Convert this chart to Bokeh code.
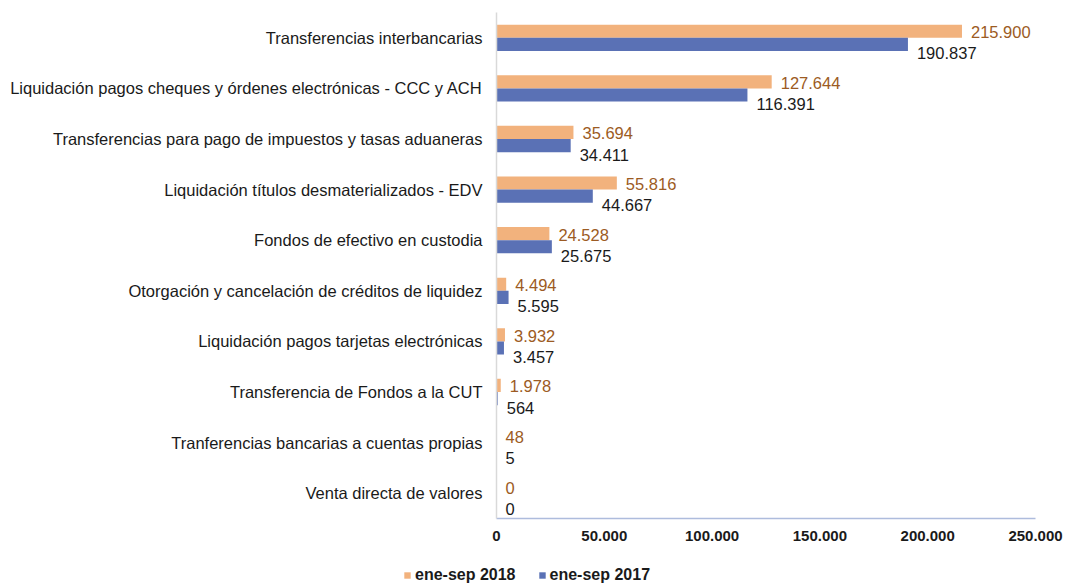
from bokeh.plotting import figure
from bokeh.models import ColumnDataSource, FactorRange, Range1d, Legend, LegendItem, FixedTicker
from bokeh.transform import dodge
from bokeh.core.properties import value
from bokeh.embed import file_html
from bokeh.resources import INLINE

categories = [
    "Transferencias interbancarias",
    "Liquidación pagos cheques y órdenes electrónicas - CCC y ACH",
    "Transferencias para pago de impuestos y tasas aduaneras",
    "Liquidación títulos desmaterializados - EDV",
    "Fondos de efectivo en custodia",
    "Otorgación y cancelación de créditos de liquidez",
    "Liquidación pagos tarjetas electrónicas",
    "Transferencia de Fondos a la CUT",
    "Tranferencias bancarias a cuentas propias",
    "Venta directa de valores",
]
values_2018 = [215900, 127644, 35694, 55816, 24528, 4494, 3932, 1978, 48, 0]
values_2017 = [190837, 116391, 34411, 44667, 25675, 5595, 3457, 564, 5, 0]
series_names = ["ene-sep 2018", "ene-sep 2017"]
x_ticks = [0, 50000, 100000, 150000, 200000, 250000]


def fmt(v):
    return f"{v:,}".replace(",", ".")


ORANGE = "#F2B27D"
BLUE = "#5A71B5"
FONT = "Liberation Sans"
TXT = "#1a1a1a"

src = ColumnDataSource(dict(
    cat=categories,
    v18=values_2018,
    v17=values_2017,
    l18=[fmt(v) for v in values_2018],
    l17=[fmt(v) for v in values_2017],
))

p = figure(
    width=1066, height=552,
    y_range=FactorRange(factors=categories[::-1]),
    x_range=Range1d(0, 250000),
    output_backend="svg", toolbar_location=None,
    min_border_left=496, min_border_right=31,
    min_border_top=12, min_border_bottom=34,
)
p.outline_line_color = None
p.xgrid.visible = False
p.ygrid.visible = False

off = 0.13
h = 0.26
r18 = p.hbar(y=dodge("cat", off, range=p.y_range), right="v18", left=0, height=h,
             source=src, fill_color=ORANGE, line_color=None)
r17 = p.hbar(y=dodge("cat", -off, range=p.y_range), right="v17", left=0, height=h,
             source=src, fill_color=BLUE, line_color=None)

p.text(x="v18", y=dodge("cat", off, range=p.y_range), text="l18", source=src,
       x_offset=9, y_offset=1, text_baseline="middle", text_align="left",
       text_font=value(FONT), text_font_size="16.5px", text_color="#9C5B23")
p.text(x="v17", y=dodge("cat", -off, range=p.y_range), text="l17", source=src,
       x_offset=9, y_offset=9, text_baseline="middle", text_align="left",
       text_font=value(FONT), text_font_size="16.5px", text_color=TXT)

# x axis
xa = p.xaxis[0]
xa.ticker = FixedTicker(ticks=x_ticks)
xa.major_label_overrides = {t: fmt(t) for t in x_ticks}
xa.major_label_text_font = FONT
xa.major_label_text_font_size = "15px"
xa.major_label_text_font_style = "bold"
xa.major_label_text_color = TXT
xa.major_label_standoff = 12
xa.major_tick_out = 0
xa.major_tick_in = 0
xa.minor_tick_out = 0
xa.minor_tick_in = 0
xa.axis_line_color = "#AEBCDD"
xa.axis_line_width = 1.5

# y axis
ya = p.yaxis[0]
ya.major_label_text_font = FONT
ya.major_label_text_font_size = "16.5px"
ya.major_label_text_color = TXT
ya.major_label_standoff = 14
ya.major_tick_out = 0
ya.major_tick_in = 0
ya.minor_tick_out = 0
ya.minor_tick_in = 0
ya.axis_line_color = "#D9D9D9"
ya.axis_line_width = 1.5

# legend strip below the chart (separate root, so no frame alignment)
lf = figure(width=1066, height=32, output_backend="svg", toolbar_location=None,
            x_axis_location=None, y_axis_location=None,
            min_border_left=0, min_border_right=0, min_border_top=0, min_border_bottom=0,
            x_range=Range1d(0, 1), y_range=Range1d(0, 1))
lf.outline_line_color = None
lf.xgrid.visible = False
lf.ygrid.visible = False
# legend-only swatch renderers, kept outside the visible range
swatch = ColumnDataSource(dict(y=[-9], left=[-9], right=[-8]))
d18 = lf.hbar(y="y", left="left", right="right", height=1, source=swatch,
              fill_color=ORANGE, line_color=None)
d17 = lf.hbar(y="y", left="left", right="right", height=1, source=swatch,
              fill_color=BLUE, line_color=None)

legend = Legend(
    items=[LegendItem(label=series_names[0], renderers=[d18]),
           LegendItem(label=series_names[1], renderers=[d17])],
    orientation="horizontal",
    location=(403, 0),
    padding=0, margin=0, spacing=22,
    label_standoff=4,
    glyph_width=8, glyph_height=8,
    label_height=18,
    label_text_font=FONT, label_text_font_size="16px",
    label_text_font_style="bold", label_text_color=TXT,
    border_line_color=None, background_fill_alpha=0,
)
lf.add_layout(legend, "center")

open("out.html", "w").write(file_html([p, lf], INLINE))
